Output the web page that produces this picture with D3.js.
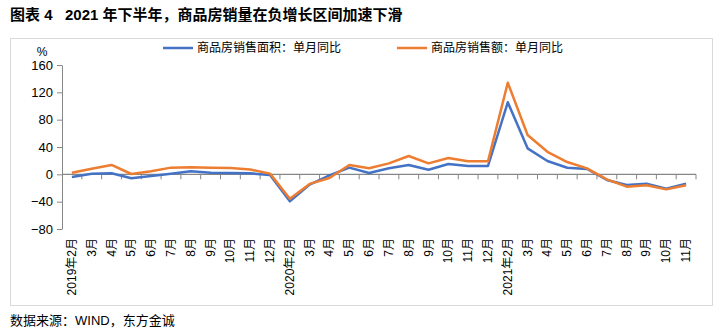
<!DOCTYPE html>
<html><head><meta charset="utf-8">
<script src="https://cdn.jsdelivr.net/npm/d3@7"></script>
<style>
body{margin:0;background:#fff;}
text{font-family:"Liberation Sans","Noto Sans CJK SC",sans-serif;}
</style></head>
<body><svg id="c" width="723" height="332"></svg>
<script>
const categories = ["2019年2月","3月","4月","5月","6月","7月","8月","9月","10月","11月","12月",
  "2020年2月","3月","4月","5月","6月","7月","8月","9月","10月","11月","12月",
  "2021年2月","3月","4月","5月","6月","7月","8月","9月","10月","11月"];
const areaYoY = [-3.9,1,1.5,-5.8,-2.4,1,4.4,2.4,2,1.5,-1,
  -39.5,-15,-1.5,9.8,2,8.8,13.7,6.8,15.1,12.2,12.2,
  105.4,38,19.5,9.7,7.8,-8.3,-15.6,-13.7,-21,-13.7];
const amountYoY = [2.4,8.3,13.7,0.5,4.4,9.8,10.3,9.8,9.3,7,1,
  -35.6,-14,-5.4,13.7,8.8,16,26.8,16,23.9,19,19,
  134,57.5,33,18,8.8,-7.3,-18,-16,-22,-16];
const yTicks = [-80,-40,0,40,80,120,160];
const seriesNames = ["商品房销售面积：单月同比","商品房销售额：单月同比"];
const colors = ["#4472C4","#ED7D31"];

const svg = d3.select("#c");
svg.append("rect").attr("x",10.5).attr("y",38.5).attr("width",702).attr("height",267)
  .attr("fill","none").attr("stroke","#d9d9d9");

svg.append("text").attr("x",10).attr("y",20).attr("font-size",15).attr("font-weight","bold")
  .attr("fill","#000").style("white-space","pre")
  .text("图表 4   2021 年下半年，商品房销量在负增长区间加速下滑");

const idx = d3.range(categories.length);
const x = d3.scaleBand().domain(idx).range([62,696]);
const y = d3.scaleLinear().domain([-80,160]).range([229,65]);
const axisColor = "#868686";

// y axis
const yAxis = svg.append("g").attr("transform","translate(62,0)")
  .call(d3.axisLeft(y).tickValues(yTicks).tickSize(5).tickSizeOuter(0).tickPadding(4));
yAxis.select(".domain").attr("stroke",axisColor);
yAxis.selectAll(".tick line").attr("stroke",axisColor);
yAxis.selectAll("text").attr("font-size",13).attr("fill","#000")
  .style("font-family","'Liberation Sans',sans-serif");
svg.append("text").attr("x",42).attr("y",56).attr("font-size",12).attr("text-anchor","middle").text("%");

// x axis line at zero with ticks at band boundaries
const y0 = y(0);
svg.append("line").attr("x1",62).attr("x2",696).attr("y1",y0).attr("y2",y0).attr("stroke",axisColor).attr("stroke-width",1.3);
svg.append("g").selectAll("line").data(idx).join("line")
  .attr("x1",i=>x(i)+x.bandwidth()).attr("x2",i=>x(i)+x.bandwidth())
  .attr("y1",y0).attr("y2",y0+5).attr("stroke",axisColor);

// x labels
svg.append("g").selectAll("text").data(idx).join("text")
  .attr("transform",i=>`translate(${x(i)+x.bandwidth()/2},238) rotate(-90)`)
  .attr("text-anchor","end").attr("dominant-baseline","central")
  .attr("font-size",12).attr("fill","#000").text(i=>categories[i]);

// lines
const line = d3.line().x((d,i)=>x(i)+x.bandwidth()/2).y(d=>y(d));
[areaYoY, amountYoY].forEach((s,k)=>{
  svg.append("path").datum(s).attr("d",line).attr("fill","none")
    .attr("stroke",colors[k]).attr("stroke-width",2.5).attr("stroke-linejoin","round");
});

// legend
const legendX = [163,397];
seriesNames.forEach((n,k)=>{
  svg.append("line").attr("x1",legendX[k]).attr("x2",legendX[k]+30).attr("y1",48).attr("y2",48)
    .attr("stroke",colors[k]).attr("stroke-width",2.5);
  svg.append("text").attr("x",legendX[k]+34).attr("y",48).attr("dominant-baseline","central")
    .attr("font-size",12).attr("fill","#000").text(n);
});

svg.append("text").attr("x",10).attr("y",325).attr("font-size",13).attr("fill","#000")
  .text("数据来源：WIND，东方金诚");
</script></body></html>
